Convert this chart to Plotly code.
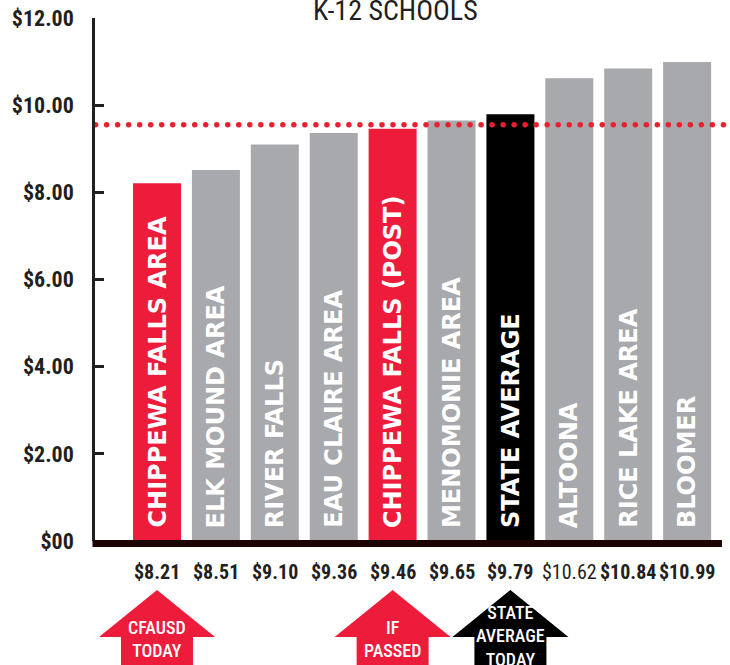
import numpy as np
import plotly.graph_objects as go

# ---------------- data ----------------
districts = [
    "CHIPPEWA FALLS AREA", "ELK MOUND AREA", "RIVER FALLS", "EAU CLAIRE AREA",
    "CHIPPEWA FALLS (POST)", "MENOMONIE AREA", "STATE AVERAGE", "ALTOONA",
    "RICE LAKE AREA", "BLOOMER",
]
tax_rates = [8.21, 8.51, 9.10, 9.36, 9.46, 9.65, 9.79, 10.62, 10.84, 10.99]
value_labels = ["$8.21", "$8.51", "$9.10", "$9.36", "$9.46", "$9.65", "$9.79",
                "$10.62", "$10.84", "$10.99"]
reference_rate = 9.55
y_tick_values = [0, 2, 4, 6, 8, 10, 12]
y_tick_labels = ["$00", "$2.00", "$4.00", "$6.00", "$8.00", "$10.00", "$12.00"]
title_text = "K-12 SCHOOLS"
arrow_targets = ["CHIPPEWA FALLS AREA", "CHIPPEWA FALLS (POST)", "STATE AVERAGE"]
arrow_texts = ["CFAUSD<br>TODAY", "IF<br>PASSED", "STATE<br>AVERAGE<br>TODAY"]

# ---------------- style ----------------
RED = "#ED1C3A"
GRAY = "#A7A9AC"
BLACK = "#000000"
DARK = "#231F20"
red_set = {"CHIPPEWA FALLS AREA", "CHIPPEWA FALLS (POST)"}
black_set = {"STATE AVERAGE"}
light_weight_labels = {"ALTOONA"}
NARROW = "Roboto Condensed, Liberation Sans Narrow, DejaVu Sans Condensed, Lato, sans-serif"
WIDE = "DejaVu Sans, Verdana, sans-serif"


def bar_color(name):
    if name in red_set:
        return RED
    if name in black_set:
        return BLACK
    return GRAY


xs = list(range(len(districts)))
colors = [bar_color(d) for d in districts]

x_lo, x_hi = -1.053, 9.677


def to_paper(xv):
    return (xv - x_lo) / (x_hi - x_lo)


fig = go.Figure()
fig.add_trace(go.Bar(
    x=xs, y=tax_rates, marker=dict(color=colors, line=dict(width=0)),
    hoverinfo="skip", showlegend=False,
))

# dotted reference line (round dots)
dot_x = np.arange(x_lo + 0.01, x_hi + 0.06, 0.187)
fig.add_trace(go.Scatter(
    x=dot_x, y=[reference_rate] * len(dot_x), mode="markers",
    marker=dict(color="#E8202F", size=5.5, line=dict(width=0)),
    cliponaxis=False, hoverinfo="skip", showlegend=False,
))

annotations = []
# labels inside bars
for i, d in enumerate(districts):
    annotations.append(dict(
        x=i, y=0, xref="x", yref="y", text=d, textangle=-90,
        showarrow=False, xanchor="center", yanchor="bottom", yshift=11,
        font=dict(family=WIDE, size=24, color="white", weight="bold"),
    ))
# value labels below axis
for i, (d, v) in enumerate(zip(districts, value_labels)):
    annotations.append(dict(
        x=i, y=0, xref="x", yref="y", text=v, showarrow=False,
        xanchor="center", yanchor="middle", yshift=-31,
        font=dict(family=NARROW, size=20, color=DARK,
                  weight="normal" if d in light_weight_labels else "bold"),
    ))
# title
annotations.append(dict(
    x=0.475, y=1, xref="paper", yref="paper", text=title_text, showarrow=False,
    xanchor="center", yanchor="bottom", yshift=-11,
    font=dict(family=NARROW, size=28, color=DARK),
))

# arrows
shapes = []
HEAD_HALF, SHAFT_HALF = 58, 36
TIP, HEAD_BASE, BOTTOM = -49, -96, -135
for name, txt in zip(arrow_targets, arrow_texts):
    i = districts.index(name)
    col = bar_color(name)
    path = (f"M 0 {TIP} L {HEAD_HALF} {HEAD_BASE} L {SHAFT_HALF} {HEAD_BASE} "
            f"L {SHAFT_HALF} {BOTTOM} L {-SHAFT_HALF} {BOTTOM} L {-SHAFT_HALF} {HEAD_BASE} "
            f"L {-HEAD_HALF} {HEAD_BASE} Z")
    shapes.append(dict(
        type="path", path=path, xref="paper", yref="paper",
        xsizemode="pixel", ysizemode="pixel", xanchor=to_paper(i), yanchor=0,
        fillcolor=col, line=dict(width=0), layer="above",
    ))
    n_lines = txt.count("<br>") + 1
    annotations.append(dict(
        x=i, y=0, xref="x", yref="y", text=txt, showarrow=False,
        xanchor="center", yanchor="middle",
        yshift=-98 if n_lines == 2 else -95,
        font=dict(family=NARROW, size=18, color="white", weight=500),
    ))

# thick baseline
shapes.append(dict(
    type="line", xref="paper", yref="paper", x0=-0.004, x1=0.992,
    ysizemode="pixel", yanchor=0, y0=-2.5, y1=-2.5,
    line=dict(color="#1C0404", width=7), layer="above",
))

fig.update_layout(
    width=730, height=665,
    margin=dict(l=95, r=3, t=18, b=124, autoexpand=False),
    plot_bgcolor="white", paper_bgcolor="white",
    bargap=0.185,
    xaxis=dict(range=[x_lo, x_hi], showgrid=False, zeroline=False,
               showticklabels=False, ticks="", showline=False, fixedrange=True,
               automargin=False),
    yaxis=dict(range=[0, 12], tickvals=y_tick_values, ticktext=y_tick_labels,
               showgrid=False, zeroline=False, showline=True, linecolor=DARK,
               linewidth=2.5, ticks="inside", ticklen=9, tickwidth=2.5,
               tickcolor=DARK, ticklabelstandoff=14, automargin=False,
               tickfont=dict(family=NARROW, size=22, color=DARK, weight="bold"),
               fixedrange=True),
    annotations=annotations,
    shapes=shapes,
)

fig.write_html("out.html")
